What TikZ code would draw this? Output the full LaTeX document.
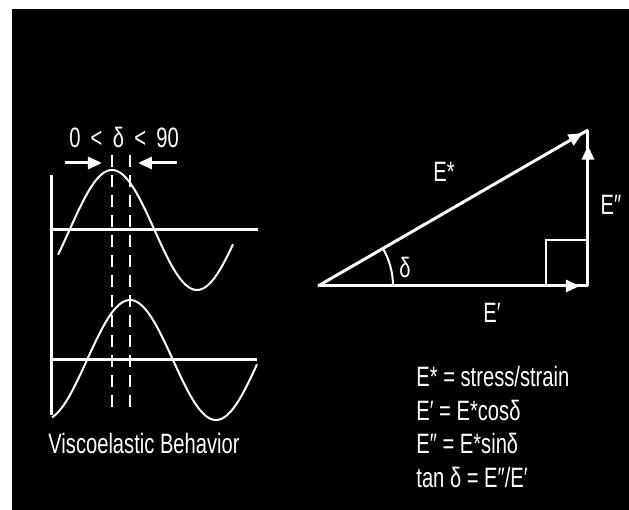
\documentclass[tikz,border=0pt]{standalone}
\usepackage{fontspec}
\setmainfont{Liberation Sans}[FakeStretch=0.72, Ligatures=ResetAll]
\usetikzlibrary{arrows.meta,calc,decorations.markings}
\tikzset{wline/.style={white, line width=1pt},
  axis/.style={white, line width=1.5pt},
  pin/.style={white, line width=1.5pt, -{Triangle[length=7pt,width=6pt]}},
  guide/.style={white, line width=1pt, dash pattern=on 6pt off 4pt},
  vec/.style={white, line width=1.5pt, postaction={decorate},
    decoration={markings, mark=at position #1 with {\arrow{Triangle[length=7pt,width=6pt]}}}},
  lbl/.style={text=white, font=\fontsize{14}{16.8}\selectfont, inner sep=0pt}}

\begin{document}
\begin{tikzpicture}[x=0.5pt,y=0.5pt]
  \useasboundingbox (0,0) rectangle (629,510);
  \fill[white] (0,0) rectangle (629,510);
  \fill[black] (12,0) rectangle (629,501);
  % left panel: stress and strain waves
  \draw[axis] (52,335) -- (52,95);
  \draw[axis] (52,280) -- (258,280);
  \draw[axis] (52,150) -- (257,150);
  \draw[wline] plot[domain=58:233, samples=90] (\x, {280+60*cos(2.1176*(\x-112))});
  \draw[wline] plot[domain=52:257, samples=90] (\x, {150+60*cos(2.0930*(\x-130))});
  \draw[guide] (112,355) -- (112,103);
  \draw[guide] (130,355) -- (130,103);
  \coordinate (la) at (65,347);  \coordinate (lb) at (102,347);
  \coordinate (ra) at (177,347); \coordinate (rb) at (138,347);
  \draw[pin] (la) -- (lb);
  \draw[pin] (ra) -- (rb);
  \node[lbl] (lag) at (124,373) {0 \,<\, δ \,<\, 90};
  \node[lbl] (cap) at (144,67) {Viscoelastic Behavior};
  % right panel: modulus triangle
  \coordinate (o) at (318,224);
  \coordinate (a) at (588,224);
  \coordinate (b) at (588,380);
  \draw[vec=0.97] (o) -- (a);
  \draw[vec=0.90] (a) -- (b);
  \draw[vec=0.98] (o) -- (b);
  \draw[wline] (546,224) |- (588,270);
  \draw[wline] ($(o)+(75,0)$) arc[start angle=0, end angle=30, radius=37.5pt];
  \node[lbl] (dl) at (405,243) {δ};
  \node[lbl] (es) at (444,338) {E*};
  \node[lbl] (epp) at (611,305) {E″};
  \node[lbl] (ep) at (492,197) {E′};
  \node[lbl, anchor=west, align=left] (eqs) at (416,83)
    {E* = stress/strain\\E′ = E*cosδ\\E″ = E*sinδ\\tan δ = E″/E′};
\end{tikzpicture}
\end{document}
